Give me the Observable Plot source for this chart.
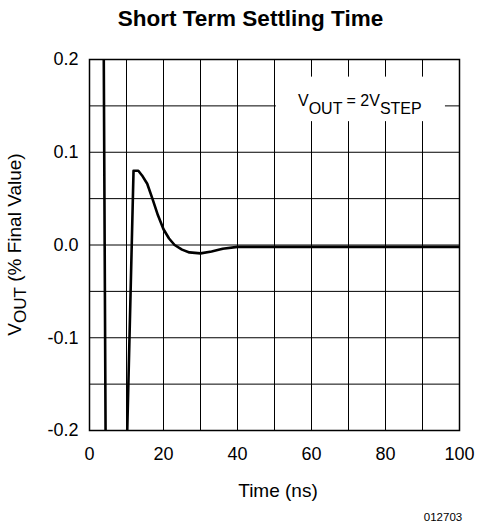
<!DOCTYPE html>
<html><head><meta charset="utf-8">
<script src="https://cdn.jsdelivr.net/npm/d3@7"></script>
<script src="https://cdn.jsdelivr.net/npm/@observablehq/plot@0.6"></script>
<style>
body{margin:0;background:#fff;font-family:"Liberation Sans",Arial,sans-serif;}
#title{height:40px;line-height:38px;text-align:center;font-weight:bold;font-size:22.5px;width:461px;padding-left:20px;color:#000;overflow:hidden;}
svg{overflow:visible}
</style></head><body>
<div id="title">Short Term Settling Time</div>
<div id="chart"></div>
<script>
const timeNs  = [3.8, 4.4, 9.9, 11.9, 13.2, 14.2, 15.6, 17.0, 18.5, 20.0, 21.5, 23.0, 25.0, 27.0, 30.0, 33.0, 36.0, 40.0, 100];
const voutPct = [0.25, -0.25, -0.25, 0.080, 0.080, 0.075, 0.066, 0.050, 0.032, 0.017, 0.007, 0.000, -0.005, -0.008, -0.009, -0.007, -0.004, -0.002, -0.002];
const xTicks = [0, 20, 40, 60, 80, 100];
const yTicks = [-0.2, -0.1, 0.0, 0.1, 0.2];
const xGrid = [10, 20, 30, 40, 50, 60, 70, 80, 90];
const yGrid = [-0.15, -0.1, -0.05, 0, 0.05, 0.1, 0.15];
const annoBox = [{x1: 50.5, x2: 96.2, y1: 0.133, y2: 0.181}];

const data = timeNs.map((t, i) => ({t, v: voutPct[i]}));
const fmt = d3.format(".1f");

const chart = Plot.plot({
  width: 481,
  height: 487,
  marginTop: 19,
  marginBottom: 97,
  marginLeft: 89,
  marginRight: 22,
  style: {fontFamily: "'Liberation Sans', Arial, sans-serif", fontSize: "18px", color: "#000", background: "#fff"},
  x: {domain: [0, 100], ticks: xTicks, tickSize: 0, tickPadding: 17, label: null},
  y: {domain: [-0.2, 0.2], ticks: yTicks, tickSize: 0, tickPadding: 11, tickFormat: d => fmt(d).replace("\u2212", "-"), label: null},
  marks: [
    Plot.gridX(xGrid, {stroke: "#000", strokeOpacity: 1, strokeWidth: 1}),
    Plot.gridY(yGrid, {stroke: "#000", strokeOpacity: 1, strokeWidth: 1}),
    Plot.rect(annoBox, {x1: "x1", x2: "x2", y1: "y1", y2: "y2", fill: "white"}),
    Plot.line(data, {x: "t", y: "v", stroke: "#000", strokeWidth: 2.6, clip: true, strokeLinejoin: "round"}),
    Plot.frame({stroke: "#000", strokeWidth: 1.5})
  ]
});
document.getElementById("chart").appendChild(chart);

const svg = d3.select(chart);
const xs = chart.scale("x"), ys = chart.scale("y");

// annotation
const ann = svg.append("text")
  .attr("x", xs.apply(73.2)).attr("y", 66)
  .attr("text-anchor", "middle").attr("font-size", 16).attr("fill", "#000");
ann.append("tspan").text("V");
ann.append("tspan").attr("dy", 8).text("OUT");
ann.append("tspan").attr("dy", -8).text(" = 2V");
ann.append("tspan").attr("dy", 8).text("STEP");

// x label
svg.append("text").attr("x", 278).attr("y", 457)
  .attr("text-anchor", "middle").attr("font-size", 19).attr("fill", "#000").text("Time (ns)");

// y label
const yl = svg.append("text")
  .attr("transform", `translate(21,${ys.apply(0)}) rotate(-90)`)
  .attr("text-anchor", "middle").attr("font-size", 19).attr("fill", "#000");
yl.append("tspan").text("V");
yl.append("tspan").attr("font-size", 17).attr("dy", 5).text("OUT");
yl.append("tspan").attr("dy", -5).text(" (% Final Value)");

// code
svg.append("text").attr("x", 443).attr("y", 481)
  .attr("font-size", 11.5).attr("fill", "#000").text("012703");
</script>
</body></html>
